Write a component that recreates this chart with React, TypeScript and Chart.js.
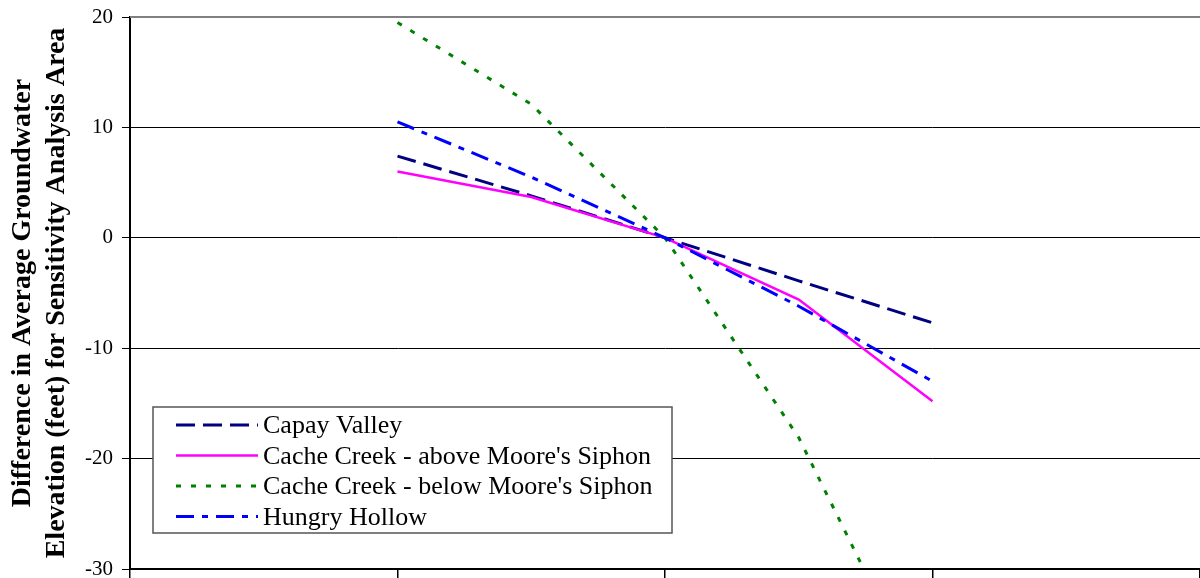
import React, { useEffect, useRef } from 'react';
import { Chart, registerables } from 'chart.js';

Chart.register(...registerables);

// ---- data ----
const xValues = [-50, -25, 0, 25, 50];
const seriesNames = [
  'Capay Valley',
  "Cache Creek - above Moore's Siphon",
  "Cache Creek - below Moore's Siphon",
  'Hungry Hollow',
];
const capayValley = [7.4, 3.8, 0, -3.9, -7.7];
const cacheAbove = [6.0, 3.7, 0, -5.6, -14.8];
const cacheBelow = [19.5, 12.1, 0, -18.1, -42.6];
const hungryHollow = [10.5, 5.5, 0, -6.2, -13.0];
const yTickValues = [20, 10, 0, -10, -20, -30];
const xTickValues = [-100, -50, 0, 50, 100];
const yTitle = ['Difference in Average Groundwater', 'Elevation (feet) for Sensitivity Analysis Area'];

const seriesValues = [capayValley, cacheAbove, cacheBelow, hungryHollow];
const seriesColors = ['#000080', '#FF00FF', '#008000', '#0000FF'];
const seriesDashes = [[19, 8], [], [5, 10], [18, 8, 6, 8]];
const seriesWidths = [3, 2.5, 3, 3];

const SERIF = '"Liberation Serif", "Times New Roman", serif';

const framePlugin = {
  id: 'frame',
  beforeDatasetsDraw(chart: any) {
    const { ctx, chartArea } = chart;
    ctx.save();
    ctx.strokeStyle = '#808080';
    ctx.lineWidth = 2;
    ctx.beginPath();
    ctx.moveTo(chartArea.left, chartArea.top);
    ctx.lineTo(chartArea.right, chartArea.top);
    ctx.stroke();
    ctx.restore();
  },
};

const boxLegendPlugin = {
  id: 'boxLegend',
  afterDraw(chart: any) {
    const { ctx, chartArea } = chart;
    const x0 = chartArea.left + 23;
    const y0 = chartArea.bottom - 162;
    const w = 519;
    const h = 126;
    ctx.save();
    ctx.fillStyle = '#ffffff';
    ctx.fillRect(x0, y0, w, h);
    ctx.strokeStyle = '#555555';
    ctx.lineWidth = 1.5;
    ctx.strokeRect(x0, y0, w, h);
    ctx.font = '26px ' + SERIF;
    ctx.textBaseline = 'alphabetic';
    ctx.textAlign = 'left';
    const rowH = 30.5;
    seriesNames.forEach((name, i) => {
      const cy = y0 + 18 + i * rowH;
      ctx.strokeStyle = seriesColors[i];
      ctx.lineWidth = seriesWidths[i];
      ctx.setLineDash(seriesDashes[i]);
      ctx.beginPath();
      ctx.moveTo(x0 + 23, cy);
      ctx.lineTo(x0 + 105, cy);
      ctx.stroke();
      ctx.setLineDash([]);
      ctx.fillStyle = '#000000';
      ctx.fillText(name, x0 + 110, cy + 8);
    });
    ctx.restore();
  },
};

export default function App() {
  const canvasRef = useRef<HTMLCanvasElement | null>(null);

  useEffect(() => {
    document.body.style.margin = '0';
    const canvas = canvasRef.current;
    if (!canvas) return;
    const datasets = seriesNames.map((name, i) => ({
      label: name,
      data: xValues.map((x, j) => ({ x, y: seriesValues[i][j] })),
      borderColor: seriesColors[i],
      backgroundColor: seriesColors[i],
      borderWidth: seriesWidths[i],
      borderDash: seriesDashes[i],
      pointRadius: 0,
      tension: 0,
      fill: false,
      clip: 0,
      order: seriesNames.length - i,
    }));
    const chart = new Chart(canvas, {
      type: 'line',
      data: { datasets },
      plugins: [framePlugin, boxLegendPlugin],
      options: {
        animation: false,
        responsive: false,
        maintainAspectRatio: false,
        layout: { padding: { top: 17, right: 0, left: 0, bottom: 0 } },
        plugins: {
          legend: { display: false },
          tooltip: { enabled: false },
          title: { display: false },
        },
        scales: {
          x: {
            type: 'linear',
            position: 'bottom',
            min: -100,
            max: 100,
            afterBuildTicks: (scale: any) => {
              scale.ticks = xTickValues.map((v) => ({ value: v }));
            },
            afterFit: (scale: any) => {
              scale.height = 9;
              scale.paddingLeft = 0;
              scale.paddingRight = 0;
            },
            ticks: { display: false },
            grid: {
              drawOnChartArea: false,
              drawTicks: true,
              tickLength: 9,
              color: '#000000',
              lineWidth: 1.5,
            },
            border: { display: true, color: '#000000', width: 2 },
          },
          y: {
            type: 'linear',
            min: -30,
            max: 20,
            afterBuildTicks: (scale: any) => {
              scale.ticks = yTickValues.map((v) => ({ value: v }));
            },
            afterFit: (scale: any) => {
              scale.width = 130;
              scale.paddingTop = 0;
              scale.paddingBottom = 0;
            },
            ticks: {
              color: '#000000',
              padding: 9,
              font: { family: SERIF, size: 21 },
            },
            grid: {
              color: '#000000',
              lineWidth: 1,
              drawTicks: true,
              tickLength: 8,
            },
            border: { display: true, color: '#000000', width: 2 },
            title: {
              display: true,
              text: yTitle,
              color: '#000000',
              padding: { top: 6, bottom: 0 },
              font: { family: SERIF, size: 28, weight: 'bold', lineHeight: 34 / 28 },
            },
          },
        },
      },
    });
    return () => chart.destroy();
  }, []);

  return (
    <div style={{ width: 1200, height: 578, background: '#ffffff' }}>
      <canvas ref={canvasRef} width={1200} height={578} style={{ display: 'block' }} />
    </div>
  );
}
